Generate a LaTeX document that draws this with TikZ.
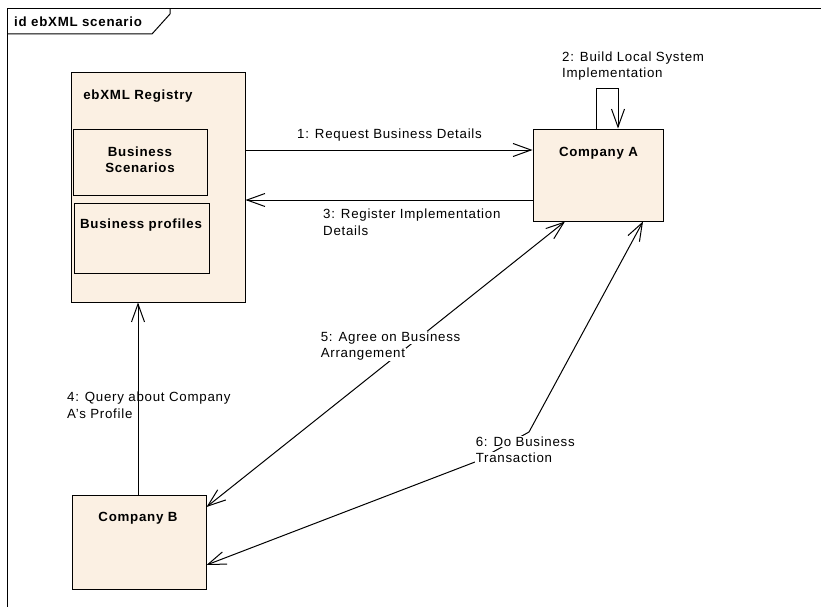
\documentclass[tikz,border=0pt]{standalone}
\usepackage{fontspec}
\setmainfont{Liberation Sans}[LetterSpace=5.5]
\usetikzlibrary{arrows.meta}
\definecolor{boxfill}{RGB}{251,240,227}
\tikzset{
  box/.style={draw=black, fill=boxfill, line width=1pt, inner sep=0pt},
  txt/.style={inner sep=0pt, anchor=base west, font=\fontsize{13.3}{16}\selectfont},
  ctxt/.style={inner sep=0pt, anchor=base, font=\fontsize{13.3}{16}\selectfont\bfseries},
  hid/.style={txt, fill=white, inner sep=0.6pt},
  conn/.style={line width=1pt, draw=black},
  tip/.style={arrows={-{Straight Barb[length=18pt,width=13pt]}}},
  tips/.style={arrows={{Straight Barb[length=18pt,width=13pt]}-{Straight Barb[length=18pt,width=13pt]}}},
}
\begin{document}
\begin{tikzpicture}[x=1pt,y=-1pt]
\useasboundingbox (0,0) rectangle (821,607);

% diagram frame with its name tab
\draw[line width=1pt] (7,607) -- (7,9) -- (821,9);
\draw[line width=1pt] (7,34) -- (152,34) -- (170,14) -- (170,9);
\node[ctxt, anchor=base west] (title) at (14,27) {id ebXML scenario};

% registry and its contents
\node[box, minimum width=174pt, minimum height=229pt] (reg) at (158,187.5) {};
\node[ctxt] (regt) at (138,99.5) {ebXML Registry};
\node[box, minimum width=134pt, minimum height=66pt] (scen) at (140,162) {};
\node[ctxt] (scena) at (140,156.5) {Business};
\node[ctxt] (scenb) at (140,172.5) {Scenarios};
\node[box, minimum width=135pt, minimum height=70pt] (prof) at (141.5,238) {};
\node[ctxt] (proft) at (141,228.5) {Business profiles};

% the two companies
\node[box, minimum width=130pt, minimum height=92pt] (ca) at (598,175) {};
\node[ctxt] (cat) at (598.5,156.5) {Company A};
\node[box, minimum width=134pt, minimum height=94pt] (cb) at (139,542) {};
\node[ctxt] (cbt) at (138,521) {Company B};

% messages
\draw[conn, tip] (reg.east |- 0,150) -- (ca.west |- 0,150);
\node[txt] (m1) at (297,139) {1: Request Business Details};

\draw[conn, tip] (ca.north -| 596,0) -- (596,89) -- (618,89) -- (ca.north -| 618,0);
\node[txt] (m2a) at (562,61.5) {2: Build Local System};
\node[txt] (m2b) at (562,77.5) {Implementation};

\draw[conn, tip] (ca.west |- 0,200) -- (reg.east |- 0,200);
\node[txt] (m3a) at (323,218) {3: Register Implementation};
\node[txt] (m3b) at (323,235) {Details};

\draw[conn, tip] (cb.north -| 138,0) -- (reg.south -| 138,0);
\node[txt] (m4a) at (67,401.5) {4: Query about Company};
\node[txt] (m4b) at (67,418) {A's Profile};

\draw[conn, tips] (cb.east |- 0,507) -- (ca.south -| 565,0);
\node[hid] (m5a) at (320,341) {5: Agree on Business};
\node[hid] (m5b) at (320,357.5) {Arrangement};

\coordinate (k1) at (529,432);
\coordinate (k2) at (475,462);
\draw[conn, tips] (cb.east |- 0,565) -- (k2) -- (k1) -- (ca.south -| 643,0);
\node[hid] (m6a) at (475,446) {6: Do Business};
\node[hid] (m6b) at (475,462.5) {Transaction};
\end{tikzpicture}
\end{document}
